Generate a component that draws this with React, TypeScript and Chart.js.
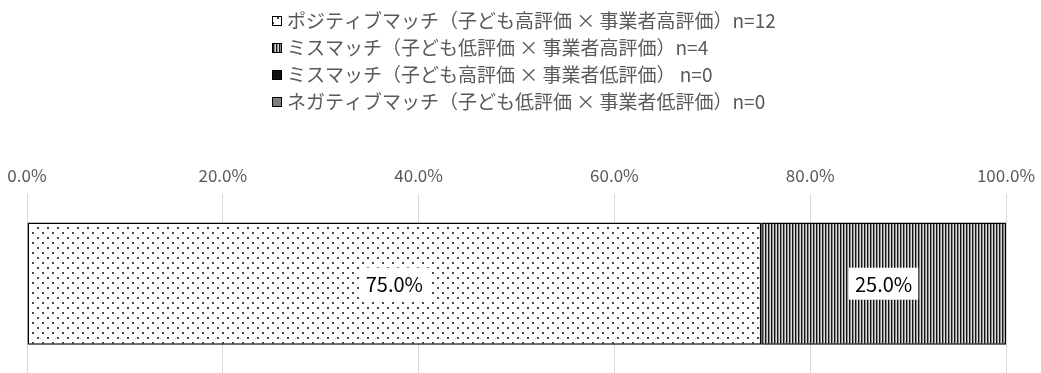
import React, { useEffect, useRef } from "react";
import { Chart, registerables } from "chart.js";

Chart.register(...registerables);

const FONT = '"Noto Sans CJK JP", "Noto Sans", sans-serif';

const categories = [""];
const seriesLabels = [
  "ポジティブマッチ（子ども高評価 × 事業者高評価）n=12",
  "ミスマッチ（子ども低評価 × 事業者高評価）n=4",
  "ミスマッチ（子ども高評価 × 事業者低評価） n=0",
  "ネガティブマッチ（子ども低評価 × 事業者低評価）n=0",
];
const positiveMatch = [75.0];
const mismatchLowHigh = [25.0];
const mismatchHighLow = [0];
const negativeMatch = [0];
const tickValues = [0, 20, 40, 60, 80, 100];
const tickLabels = ["0.0%", "20.0%", "40.0%", "60.0%", "80.0%", "100.0%"];

function makeDots(ctx: CanvasRenderingContext2D) {
  const c = document.createElement("canvas");
  c.width = 10;
  c.height = 10;
  const g = c.getContext("2d")!;
  g.fillStyle = "#ffffff";
  g.fillRect(0, 0, 10, 10);
  g.fillStyle = "#444444";
  g.fillRect(2, 2, 2, 2);
  g.fillRect(7, 7, 2, 2);
  return ctx.createPattern(c, "repeat")!;
}

function makeStripes(ctx: CanvasRenderingContext2D) {
  const c = document.createElement("canvas");
  c.width = 3;
  c.height = 4;
  const g = c.getContext("2d")!;
  const cols = ["#151515", "#8a8a8a", "#dcdcdc"];
  cols.forEach((col, i) => {
    g.fillStyle = col;
    g.fillRect(i, 0, 1, 4);
  });
  return ctx.createPattern(c, "repeat")!;
}

const legendPlugin = {
  id: "stackedLegend",
  afterDraw(chart: any) {
    const ctx: CanvasRenderingContext2D = chart.ctx;
    ctx.save();
    ctx.font = `19px ${FONT}`;
    ctx.textBaseline = "middle";
    ctx.textAlign = "left";
    chart.data.datasets.forEach((ds: any, i: number) => {
      const y = 20.5 + i * 27;
      const bx = 272;
      ctx.fillStyle = ds.backgroundColor;
      ctx.fillRect(bx, Math.round(y) - 5, 10, 10);
      ctx.strokeStyle = "#000";
      ctx.lineWidth = 1;
      ctx.strokeRect(bx + 0.5, Math.round(y) - 4.5, 9, 9);
      ctx.fillStyle = "#595959";
      ctx.fillText(ds.label, 287, y);
    });
    ctx.restore();
  },
};

const valueLabelPlugin = {
  id: "valueLabels",
  afterDatasetsDraw(chart: any) {
    const ctx: CanvasRenderingContext2D = chart.ctx;
    ctx.save();
    ctx.font = `20px ${FONT}`;
    ctx.textAlign = "center";
    ctx.textBaseline = "middle";
    chart.data.datasets.forEach((ds: any, di: number) => {
      const meta = chart.getDatasetMeta(di);
      meta.data.forEach((el: any, i: number) => {
        const v = ds.data[i];
        if (!v) return;
        const { x, y } = el.getCenterPoint();
        const txt = v.toFixed(1) + "%";
        const w = ctx.measureText(txt).width;
        ctx.fillStyle = "#ffffff";
        ctx.fillRect(x - w / 2 - 6, y - 16, w + 12, 32);
        ctx.fillStyle = "#000000";
        ctx.fillText(txt, x, y + 1);
      });
    });
    ctx.restore();
  },
};

export default function App() {
  const ref = useRef<HTMLCanvasElement>(null);

  useEffect(() => {
    const canvas = ref.current!;
    const ctx = canvas.getContext("2d")!;
    const dots = makeDots(ctx);
    const stripes = makeStripes(ctx);
    const common = {
      borderColor: "#000000",
      borderWidth: 1.5,
      borderSkipped: false,
      barPercentage: 0.684,
      categoryPercentage: 1,
    };
    const chart = new Chart(canvas, {
      type: "bar",
      data: {
        labels: categories,
        datasets: [
          { label: seriesLabels[0], data: positiveMatch, backgroundColor: dots, ...common },
          { label: seriesLabels[1], data: mismatchLowHigh, backgroundColor: stripes, ...common },
          { label: seriesLabels[2], data: mismatchHighLow, backgroundColor: "#111111", ...common },
          { label: seriesLabels[3], data: negativeMatch, backgroundColor: "#7f7f7f", ...common },
        ] as any,
      },
      options: {
        indexAxis: "y",
        animation: false,
        responsive: false,
        maintainAspectRatio: false,
        layout: { padding: { top: 156, left: 27, right: 35, bottom: 0 } },
        plugins: {
          legend: { display: false },
          tooltip: { enabled: false },
        },
        scales: {
          x: {
            position: "top",
            stacked: true,
            min: 0,
            max: 100,
            afterBuildTicks: (scale: any) => {
              scale.ticks = tickValues.map((v) => ({ value: v }));
            },
            afterFit: (scale: any) => {
              scale.paddingLeft = 0;
              scale.paddingRight = 0;
            },
            ticks: {
              color: "#595959",
              font: { family: FONT, size: 17 },
              padding: 9,
              callback: (_v: any, i: number) => tickLabels[i],
            },
            grid: { color: "#d9d9d9", lineWidth: 1, drawTicks: false },
            border: { display: false },
          },
          y: { stacked: true, display: false },
        },
      } as any,
      plugins: [legendPlugin, valueLabelPlugin],
    });
    return () => chart.destroy();
  }, []);

  return (
    <div style={{ position: "fixed", left: 0, top: 0, width: 1041, height: 373, background: "#fff" }}>
      <canvas ref={ref} width={1041} height={373} style={{ display: "block" }} />
    </div>
  );
}
